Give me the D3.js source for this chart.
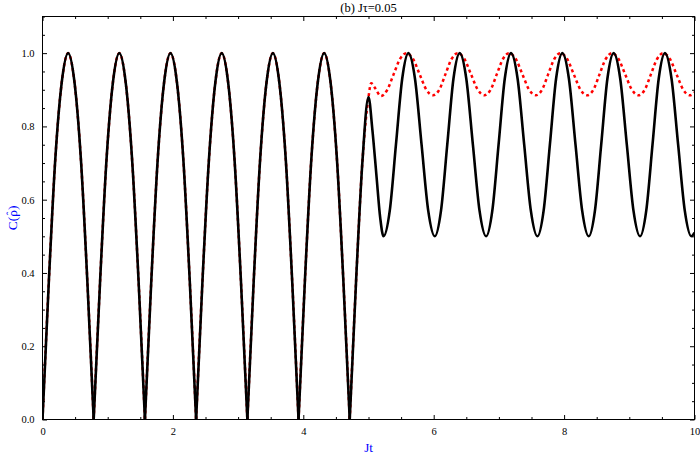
<!DOCTYPE html>
<html>
<head>
<meta charset="utf-8">
<script src="https://cdn.jsdelivr.net/npm/d3@7"></script>
<style>
  body { margin: 0; background: #fff; }
  svg { display: block; }
  text { font-family: "Liberation Serif", "DejaVu Serif", serif; }
</style>
</head>
<body>
<svg id="chart" width="700" height="457"></svg>
<script>
// Data
// shared part (both curves coincide up to Jt = 5)
const earlyT = [0, 0.098, 0.196, 0.295, 0.393, 0.491, 0.589, 0.687, 0.785,
  0.884, 0.982, 1.080, 1.178, 1.276, 1.374, 1.473, 1.571,
  1.669, 1.767, 1.865, 1.963, 2.062, 2.160, 2.258, 2.356,
  2.454, 2.553, 2.651, 2.749, 2.847, 2.945, 3.043, 3.142,
  3.240, 3.338, 3.436, 3.534, 3.632, 3.731, 3.829, 3.927,
  4.025, 4.123, 4.222, 4.320, 4.418, 4.516, 4.614, 4.712,
  4.810, 4.909, 5.000];
const earlyC = [0, 0.38, 0.71, 0.92, 1.00, 0.92, 0.71, 0.38, 0,
  0.38, 0.71, 0.92, 1.00, 0.92, 0.71, 0.38, 0,
  0.38, 0.71, 0.92, 1.00, 0.92, 0.71, 0.38, 0,
  0.38, 0.71, 0.92, 1.00, 0.92, 0.71, 0.38, 0,
  0.38, 0.71, 0.92, 1.00, 0.92, 0.71, 0.38, 0,
  0.38, 0.71, 0.92, 1.00, 0.92, 0.71, 0.38, 0,
  0.38, 0.71, 0.88];

// black solid, after Jt = 5
const blackT = [5.060, 5.120, 5.180, 5.230,
  5.326, 5.421, 5.517, 5.612, 5.713, 5.814, 5.916, 6.017,
  6.112, 6.208, 6.303, 6.399, 6.500, 6.601, 6.703, 6.804,
  6.899, 6.995, 7.090, 7.186, 7.287, 7.388, 7.490, 7.591,
  7.686, 7.782, 7.877, 7.973, 8.074, 8.175, 8.277, 8.378,
  8.473, 8.569, 8.664, 8.760, 8.861, 8.962, 9.064, 9.165,
  9.260, 9.356, 9.451, 9.547, 9.648, 9.749, 9.851, 9.952, 10.0];
const blackC = [0.79, 0.67, 0.55, 0.50,
  0.57, 0.75, 0.93, 1.00, 0.93, 0.75, 0.57, 0.50,
  0.57, 0.75, 0.93, 1.00, 0.93, 0.75, 0.57, 0.50,
  0.57, 0.75, 0.93, 1.00, 0.93, 0.75, 0.57, 0.50,
  0.57, 0.75, 0.93, 1.00, 0.93, 0.75, 0.57, 0.50,
  0.57, 0.75, 0.93, 1.00, 0.93, 0.75, 0.57, 0.50,
  0.57, 0.75, 0.93, 1.00, 0.93, 0.75, 0.57, 0.50, 0.51];

// red dotted, after Jt = 5
const redT = [5.040, 5.100, 5.190,
  5.288, 5.385, 5.483, 5.580, 5.683, 5.785, 5.888, 5.990,
  6.085, 6.179, 6.274, 6.368, 6.471, 6.573, 6.676, 6.778,
  6.873, 6.967, 7.062, 7.156, 7.259, 7.361, 7.464, 7.566,
  7.661, 7.755, 7.850, 7.944, 8.047, 8.149, 8.252, 8.354,
  8.449, 8.543, 8.638, 8.732, 8.835, 8.937, 9.040, 9.142,
  9.237, 9.331, 9.426, 9.520, 9.623, 9.725, 9.828, 9.930, 10.0];
const redC = [0.918, 0.905, 0.883,
  0.900, 0.942, 0.984, 1.000, 0.984, 0.942, 0.900, 0.885,
  0.900, 0.942, 0.984, 1.000, 0.984, 0.942, 0.900, 0.885,
  0.900, 0.942, 0.984, 1.000, 0.984, 0.942, 0.900, 0.885,
  0.900, 0.942, 0.984, 1.000, 0.984, 0.942, 0.900, 0.885,
  0.900, 0.942, 0.984, 1.000, 0.984, 0.942, 0.900, 0.885,
  0.900, 0.942, 0.984, 1.000, 0.984, 0.942, 0.900, 0.885, 0.893];

// Axis ticks
const xMajor = [0, 2, 4, 6, 8, 10];
const yMajor = [0, 0.2, 0.4, 0.6, 0.8, 1.0];
const titleText = "(b) J\u03C4=0.05";

// Layout
const svg = d3.select("#chart");
const margin = {top: 16.5, right: 5.5, bottom: 37.5, left: 42.5};
const width = 700, height = 457;
const w = width - margin.left - margin.right;
const h = height - margin.top - margin.bottom;

const x = d3.scaleLinear().domain([0, 10]).range([0, w]);
const y = d3.scaleLinear().domain([0, 1.1]).range([h, 0]);

const g = svg.append("g").attr("transform", `translate(${margin.left},${margin.top})`);

const zip = (ts, cs) => ts.map((t, i) => ({t: t, c: cs[i]}));
const early = zip(earlyT, earlyC);
const blackPts = early.concat(zip(blackT, blackC));
const redPts = early.concat(zip(redT, redC));

// split at the cusps (C = 0) so the V shapes stay sharp
function splitAtCusps(pts) {
  const segs = [];
  let cur = [];
  pts.forEach((p, i) => {
    cur.push(p);
    if (p.c === 0 && i > 0 && i < pts.length - 1) {
      segs.push(cur);
      cur = [p];
    }
  });
  if (cur.length > 1) segs.push(cur);
  return segs;
}

const line = d3.line()
  .x(d => x(d.t))
  .y(d => y(d.c))
  .curve(d3.curveMonotoneX);

svg.append("clipPath").attr("id", "plotClip")
  .append("rect").attr("x", 0).attr("y", 0).attr("width", w).attr("height", h);

const curves = g.append("g").attr("clip-path", "url(#plotClip)");

curves.selectAll("path.red")
  .data(splitAtCusps(redPts))
  .enter().append("path")
  .attr("class", "red")
  .attr("d", line)
  .attr("fill", "none")
  .attr("stroke", "#ff0000")
  .attr("stroke-width", 2.5)
  .attr("stroke-dasharray", "3,3");

curves.selectAll("path.black")
  .data(splitAtCusps(blackPts))
  .enter().append("path")
  .attr("class", "black")
  .attr("d", line)
  .attr("fill", "none")
  .attr("stroke", "#000")
  .attr("stroke-width", 2.6)
  .attr("stroke-linejoin", "round");

// Frame with inward ticks on all four sides
const xMinor = d3.range(0, 10.001, 0.5).filter(v => xMajor.indexOf(v) < 0);
const yMinor = d3.range(0, 1.1001, 0.05).map(v => +v.toFixed(2)).filter(v => yMajor.indexOf(v) < 0);

function styleAxis(sel) {
  sel.select(".domain").remove();
  sel.selectAll("line").attr("stroke", "#000").attr("stroke-width", 1);
  sel.selectAll("text").attr("font-size", "10.5px").attr("fill", "#000");
}

g.append("g").attr("transform", `translate(0,${h})`)
  .call(d3.axisBottom(x).tickValues(xMajor).tickSizeInner(-4.5).tickSizeOuter(0).tickPadding(8).tickFormat(d3.format("d")))
  .call(styleAxis);
g.append("g").attr("transform", `translate(0,${h})`)
  .call(d3.axisBottom(x).tickValues(xMinor).tickSizeInner(-2.5).tickSizeOuter(0).tickFormat(""))
  .call(styleAxis);
g.append("g")
  .call(d3.axisTop(x).tickValues(xMajor).tickSizeInner(-4.5).tickSizeOuter(0).tickFormat(""))
  .call(styleAxis);
g.append("g")
  .call(d3.axisTop(x).tickValues(xMinor).tickSizeInner(-2.5).tickSizeOuter(0).tickFormat(""))
  .call(styleAxis);

g.append("g")
  .call(d3.axisLeft(y).tickValues(yMajor).tickSizeInner(-4.5).tickSizeOuter(0).tickPadding(8).tickFormat(d3.format(".1f")))
  .call(styleAxis);
g.append("g")
  .call(d3.axisLeft(y).tickValues(yMinor).tickSizeInner(-2.5).tickSizeOuter(0).tickFormat(""))
  .call(styleAxis);
g.append("g").attr("transform", `translate(${w},0)`)
  .call(d3.axisRight(y).tickValues(yMajor).tickSizeInner(-4.5).tickSizeOuter(0).tickFormat(""))
  .call(styleAxis);
g.append("g").attr("transform", `translate(${w},0)`)
  .call(d3.axisRight(y).tickValues(yMinor).tickSizeInner(-2.5).tickSizeOuter(0).tickFormat(""))
  .call(styleAxis);

g.append("rect")
  .attr("width", w).attr("height", h)
  .attr("fill", "none").attr("stroke", "#000").attr("stroke-width", 1);

// Title and axis labels
svg.append("text")
  .attr("x", margin.left + w / 2).attr("y", 12)
  .attr("text-anchor", "middle")
  .attr("font-size", "12.5px")
  .text(titleText);

svg.append("text")
  .attr("x", margin.left + w / 2).attr("y", 452)
  .attr("text-anchor", "middle")
  .attr("font-size", "13px")
  .attr("fill", "#0000ff")
  .text("Jt");

// y label: C(rho-hat), the hat drawn as its own glyph above the rho
const yLab = svg.append("g")
  .attr("transform", `translate(17,${margin.top + h / 2}) rotate(-90)`)
  .attr("fill", "#0000ff");
const yText = yLab.append("text")
  .attr("text-anchor", "middle")
  .attr("font-size", "13.5px")
  .text("C(\u03C1)");
const n = yText.node();
const rhoStart = n.getStartPositionOfChar(2).x;
const rhoEnd = n.getEndPositionOfChar(2).x;
yLab.append("text")
  .attr("x", (rhoStart + rhoEnd) / 2)
  .attr("y", -3)
  .attr("text-anchor", "middle")
  .attr("font-size", "11px")
  .text("\u02C6");
</script>
</body>
</html>
